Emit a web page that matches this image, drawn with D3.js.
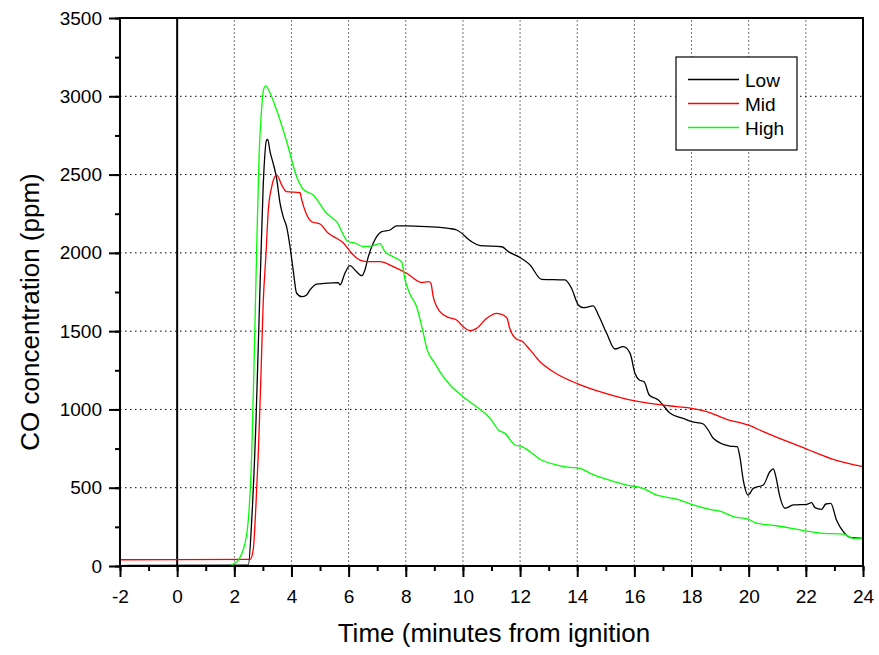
<!DOCTYPE html>
<html>
<head>
<meta charset="utf-8">
<script src="https://cdn.jsdelivr.net/npm/d3@7"></script>
<style>
  body { margin: 0; background: #fff; }
  text { font-family: "Liberation Sans", Arial, sans-serif; }
</style>
</head>
<body>
<script>
// data: [time (min), CO (ppm)]
var lowData = [[-2,3],[2.49,5],[2.61,294],[2.76,932],[2.90,1784],[3.01,2423],[3.13,2721],[3.17,2725],[3.25,2646],[3.36,2572],[3.48,2476],[3.60,2317],[3.71,2231],[3.83,2167],[3.95,2039],[4.06,1891],[4.18,1742],[4.36,1720],[4.53,1731],[4.65,1763],[4.88,1800],[5.64,1810],[5.70,1795],[5.87,1870],[6.05,1918],[6.22,1891],[6.46,1854],[6.57,1891],[6.69,1976],[6.86,2061],[7.16,2135],[7.45,2146],[7.68,2172],[8.03,2172],[8.73,2167],[9.55,2155],[9.78,2146],[10.31,2071],[10.6,2046],[11.36,2039],[11.59,2008],[11.94,1976],[12.35,1922],[12.75,1831],[13.57,1827],[13.80,1774],[14.04,1667],[14.21,1650],[14.56,1661],[14.74,1603],[15.03,1486],[15.32,1386],[15.61,1401],[15.85,1358],[16.02,1231],[16.17,1188],[16.34,1177],[16.52,1092],[16.84,1060],[17.0,1028],[17.25,975],[17.71,943],[18.0,922],[18.41,907],[18.58,869],[18.76,816],[19.34,766],[19.60,762],[19.69,698],[19.81,549],[19.98,453],[20.16,496],[20.51,517],[20.74,602],[20.86,620],[20.95,571],[21.09,443],[21.27,369],[21.56,390],[22.03,394],[22.20,405],[22.32,373],[22.55,362],[22.70,396],[22.87,400],[23.08,290],[23.31,219],[23.54,183],[24.0,177]];

var midData = [[-2,40],[2.55,42],[2.66,102],[2.76,400],[2.84,720],[2.92,1145],[3.01,1678],[3.11,1997],[3.19,2274],[3.31,2423],[3.42,2487],[3.49,2495],[3.66,2433],[3.83,2391],[4.30,2384],[4.36,2338],[4.51,2253],[4.71,2199],[5.0,2184],[5.29,2125],[5.58,2093],[5.81,2065],[6.11,1997],[6.40,1954],[6.69,1944],[7.10,1944],[7.56,1912],[8.03,1870],[8.56,1810],[8.79,1816],[8.88,1805],[8.96,1720],[9.20,1624],[9.49,1588],[9.78,1571],[10.01,1528],[10.25,1503],[10.48,1518],[10.83,1582],[11.18,1614],[11.41,1603],[11.55,1582],[11.62,1528],[11.88,1448],[12.06,1437],[12.35,1380],[12.70,1305],[13.16,1241],[14.04,1162],[14.91,1107],[15.61,1071],[16.54,1039],[17.48,1018],[18.0,1007],[18.53,986],[19.23,937],[19.98,901],[20.51,858],[21.21,805],[22.03,747],[22.85,688],[24.0,634]];

var highData = [[-2,2],[1.8,3],[2.02,17],[2.31,102],[2.49,294],[2.61,722],[2.70,1360],[2.78,1999],[2.87,2638],[2.93,2849],[3.02,3040],[3.10,3066],[3.20,3040],[3.48,2912],[3.85,2700],[4.18,2487],[4.41,2406],[4.76,2370],[5.23,2253],[5.58,2199],[5.99,2071],[6.19,2065],[6.51,2040],[6.86,2046],[7.10,2059],[7.27,2008],[7.56,1975],[7.86,1940],[7.97,1830],[8.15,1735],[8.38,1656],[8.59,1507],[8.75,1380],[9.0,1300],[9.25,1225],[9.55,1156],[10.01,1081],[10.6,1000],[10.77,975],[11.0,932],[11.24,869],[11.47,847],[11.82,773],[12.06,762],[12.35,730],[12.64,688],[13.28,645],[13.75,630],[14.10,624],[14.45,592],[14.86,564],[15.32,538],[15.73,517],[16.31,496],[16.78,453],[17.01,443],[17.6,421],[18.0,394],[18.64,362],[19.05,347],[19.46,315],[19.98,300],[20.22,277],[20.98,257],[21.97,225],[22.61,209],[23.31,204],[23.66,177],[24.0,177]];

var seriesNames = ["Low", "Mid", "High"];
var seriesColors = ["#000000", "#ff0000", "#00ff00"];
var xTicks = [-2, 0, 2, 4, 6, 8, 10, 12, 14, 16, 18, 20, 22, 24];
var yTicks = [0, 500, 1000, 1500, 2000, 2500, 3000, 3500];

var width = 879, height = 655;
var margin = {top: 18, right: 16, bottom: 89, left: 120};

var svg = d3.select("body")
            .append("svg")
            .attr("width", width)
            .attr("height", height)

var x = d3.scaleLinear().domain([-2, 24]).range([margin.left, width - margin.right]);
var y = d3.scaleLinear().domain([0, 3500]).range([height - margin.bottom, margin.top]);

//grid
svg.append("g")
    .selectAll("line")
    .data(xTicks.filter(d => d > 0 && d < 24))
    .enter()
    .append("line")
    .attr("x1", d => x(d)).attr("x2", d => x(d))
    .attr("y1", y(0)).attr("y2", y(3500))
    .attr("stroke", "#777")
    .attr("stroke-dasharray", "2,2")

svg.append("g")
    .selectAll("line")
    .data(yTicks.filter(d => d > 0 && d < 3500))
    .enter()
    .append("line")
    .attr("x1", x(-2)).attr("x2", x(24))
    .attr("y1", d => y(d)).attr("y2", d => y(d))
    .attr("stroke", "#000")
    .attr("stroke-dasharray", "1.5,3.5")

//zero line
svg.append("line")
    .attr("x1", x(0)).attr("x2", x(0))
    .attr("y1", y(0)).attr("y2", y(3500))
    .attr("stroke", "#000")
    .attr("stroke-width", 2)

//curves
var line = d3.line()
    .x(d => x(d[0]))
    .y(d => y(d[1]))
    .curve(d3.curveMonotoneX);

[lowData, midData, highData].forEach((data, i) => {
    svg.append("path")
        .datum(data)
        .attr("fill", "none")
        .attr("stroke", seriesColors[i])
        .attr("stroke-width", 1.3)
        .attr("d", line)
})

//frame
svg.append("rect")
    .attr("x", x(-2)).attr("y", y(3500))
    .attr("width", x(24) - x(-2))
    .attr("height", y(0) - y(3500))
    .attr("fill", "none")
    .attr("stroke", "#000")
    .attr("stroke-width", 2)

//axes
function styleAxis(g) {
    g.select(".domain").remove();
    g.selectAll(".tick line").attr("stroke", "#000").attr("stroke-width", 2);
    g.selectAll("text").attr("fill", "#000").style("font-size", "19px");
}

svg.append("g")
    .attr("transform", "translate(0," + y(0) + ")")
    .call(d3.axisBottom(x).tickValues(d3.range(-2, 25, 1)).tickSize(5).tickFormat(""))
    .call(styleAxis)

svg.append("g")
    .attr("transform", "translate(0," + y(0) + ")")
    .call(d3.axisBottom(x).tickValues(xTicks).tickSize(11).tickPadding(13).tickFormat(d => String(d)))
    .call(styleAxis)

svg.append("g")
    .attr("transform", "translate(" + x(-2) + ",0)")
    .call(d3.axisLeft(y).tickValues(d3.range(0, 3501, 250)).tickSize(5).tickFormat(""))
    .call(styleAxis)

svg.append("g")
    .attr("transform", "translate(" + x(-2) + ",0)")
    .call(d3.axisLeft(y).tickValues(yTicks).tickSize(11).tickPadding(7).tickFormat(d => String(d)))
    .call(styleAxis)

//titles
svg.append("text")
    .attr("x", 494)
    .attr("y", 642)
    .attr("text-anchor", "middle")
    .style("font-size", "26px")
    .text("Time (minutes from ignition")

svg.append("text")
    .attr("transform", "translate(39,312) rotate(-90)")
    .attr("text-anchor", "middle")
    .style("font-size", "26px")
    .text("CO concentration (ppm)")

//legend
var legend = svg.append("g")
legend.append("rect")
    .attr("x", 676).attr("y", 57)
    .attr("width", 121).attr("height", 93)
    .attr("fill", "#fff")
    .attr("stroke", "#000")
    .attr("stroke-width", 1.2)

seriesNames.forEach((name, i) => {
    var ly = 79.5 + i * 24;
    legend.append("line")
        .attr("x1", 688).attr("x2", 739)
        .attr("y1", ly).attr("y2", ly)
        .attr("stroke", seriesColors[i])
        .attr("stroke-width", 1.3)
    legend.append("text")
        .attr("x", 745)
        .attr("y", ly + 7)
        .style("font-size", "19px")
        .text(name)
})
</script>
</body>
</html>
